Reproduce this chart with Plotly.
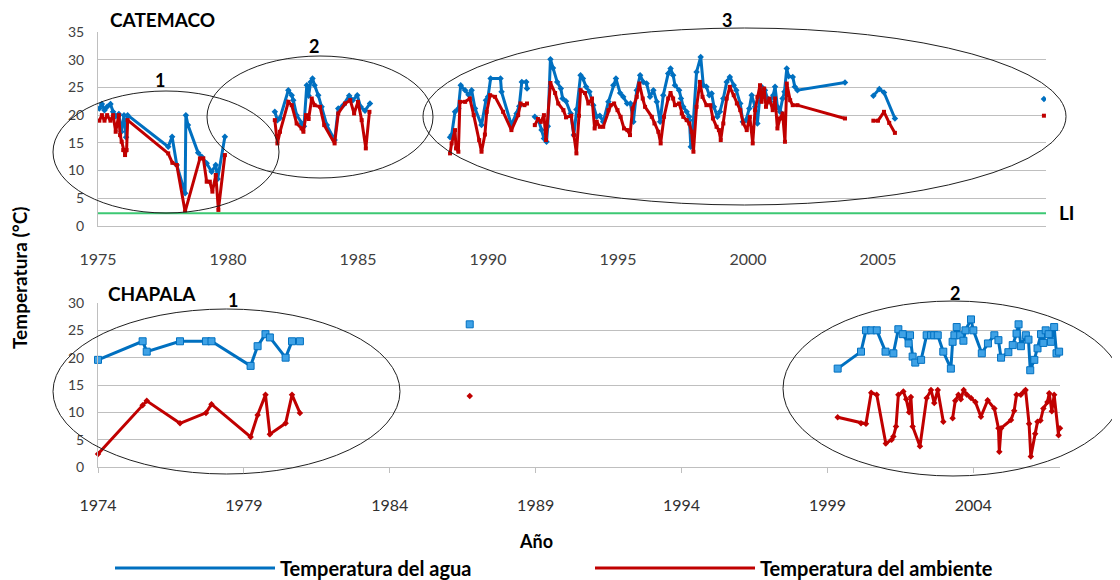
import plotly.graph_objects as go

# the page body adds an 8px margin, so the figure is drawn 8px smaller
OFF = 8
W, H = 1120 - OFF, 580 - OFF
BLUE = "#0070C0"
RED = "#C00000"
GREEN = "#3CC873"
GRID = "#BFBFBF"
FONT = "Lato"

# ---------------- Data ----------------
# CATEMACO (top panel)
cat_agua_x = [1975.05, 1975.15, 1975.25, 1975.35, 1975.48, 1975.58, 1975.68, 1975.8, 1975.9, 1976.0, 1976.08, 1976.14,
              1977.7, 1977.85, 1978.03, 1978.35, 1978.38, 1978.46, 1978.85, 1978.99, 1979.18, 1979.37, 1979.53, 1979.6, 1979.88,
              None,
              1981.8, 1981.9, 1982.0, 1982.32, 1982.45, 1982.51, 1982.64, 1982.83, 1982.92, 1983.03, 1983.1, 1983.18, 1983.25,
              1983.33, 1983.47, 1983.6, 1983.8, 1984.1, 1984.24, 1984.43, 1984.66, 1984.8, 1984.97, 1985.1, 1985.27, 1985.46,
              None,
              1988.54, 1988.6, 1988.73, 1988.86, 1988.95, 1989.12, 1989.25, 1989.37, 1989.5, 1989.75, 1989.92, 1990.0, 1990.1,
              1990.48, 1990.52, 1990.9, 1991.1, 1991.2, 1991.3, 1991.47, 1991.5,
              None,
              1991.8, 1991.95, 1992.06, 1992.15, 1992.25, 1992.3, 1992.4, 1992.5, 1992.66, 1992.8, 1992.87, 1993.0, 1993.18,
              1993.3, 1993.4, 1993.56, 1993.65, 1993.77, 1993.9, 1994.05, 1994.18, 1994.3, 1994.43, 1994.63, 1994.82, 1994.92,
              1995.08, 1995.2, 1995.35, 1995.48, 1995.59, 1995.72, 1995.85, 1995.97, 1996.1, 1996.23, 1996.36, 1996.49, 1996.62,
              1996.74, 1996.93, 1997.02, 1997.12, 1997.19, 1997.35, 1997.42, 1997.51, 1997.64, 1997.74, 1997.8, 1997.9, 1998.02,
              1998.18, 1998.28, 1998.4, 1998.51, 1998.6, 1998.69, 1998.82, 1998.92, 1999.05, 1999.18, 1999.3, 1999.45, 1999.55,
              1999.7, 1999.8, 1999.92, 2000.05, 2000.14, 2000.27, 2000.36, 2000.46, 2000.52, 2000.65, 2000.75, 2000.85, 2000.97,
              2001.04, 2001.13, 2001.23, 2001.33, 2001.4, 2001.49, 2001.56, 2001.72, 2001.8, 2001.9, 2003.73,
              None,
              2004.82, 2005.05, 2005.23, 2005.65,
              None,
              2011.38]
cat_agua_y = [21.2, 22.0, 20.9, 21.5, 22.0, 20.6, 19.8, 20.2, 17.0, 20.0, 16.0, 20.0,
              14.3, 16.1, 11.0, 5.9, 20.0, 18.2, 13.2, 12.5, 11.3, 9.8, 11.0, 8.5, 16.1,
              None,
              20.6, 19.1, 19.5, 24.5, 23.6, 22.7, 20.0, 18.5, 18.0, 25.4, 23.5, 26.0, 26.6,
              25.4, 23.6, 21.5, 18.2, 15.5, 21.2, 21.8, 23.5, 22.7, 23.6, 21.5, 20.8, 22.1,
              None,
              16.0, 16.4, 20.6, 21.2, 25.4, 24.5, 23.7, 24.5, 21.2, 18.2, 22.7, 23.3, 26.6,
              26.6, 24.2, 18.2, 20.3, 21.6, 26.0, 26.0, 24.8,
              None,
              19.7, 19.0, 17.3, 15.8, 15.2, 18.0, 30.1, 28.5, 26.0, 24.8, 23.0, 22.5, 20.3,
              16.4, 21.0, 27.2, 26.6, 25.1, 24.2, 21.8, 19.7, 19.9, 18.8, 22.4, 25.4, 26.6,
              24.0, 23.3, 22.1, 22.1, 18.8, 24.5, 27.2, 26.0, 25.7, 23.3, 24.5, 22.4, 18.8,
              23.6, 27.5, 28.4, 27.2, 25.4, 24.5, 23.0, 21.5, 20.6, 19.7, 14.3, 19.1, 27.8,
              30.5, 25.4, 25.1, 23.6, 23.9, 21.5, 19.7, 20.6, 23.0, 26.0, 26.9, 25.4, 24.5,
              22.1, 18.8, 19.1, 21.2, 23.6, 21.5, 18.5, 23.6, 25.1, 24.5, 23.0, 22.4, 23.6,
              25.1, 21.5, 20.6, 23.0, 24.2, 28.4, 27.0, 26.9, 25.1, 24.5, 25.9,
              None,
              23.5, 24.7, 24.1, 19.4,
              None,
              22.9]

cat_amb_x = [1975.05, 1975.15, 1975.25, 1975.35, 1975.48, 1975.58, 1975.68, 1975.8, 1975.85, 1975.91, 1975.97, 1976.04,
             1976.1, 1976.14, 1977.7, 1977.86, 1978.03, 1978.35, 1978.92, 1979.05, 1979.18, 1979.3, 1979.4, 1979.53, 1979.63,
             1979.88,
             None,
             1981.8, 1981.9, 1982.0, 1982.32, 1982.45, 1982.64, 1982.83, 1982.9, 1983.0, 1983.1, 1983.22, 1983.33, 1983.54,
             1983.7, 1984.1, 1984.24, 1984.5, 1984.7, 1984.85, 1985.0, 1985.14, 1985.3, 1985.44,
             None,
             1988.54, 1988.6, 1988.73, 1988.77, 1988.86, 1988.92, 1989.12, 1989.3, 1989.45, 1989.66, 1989.75, 1989.88, 1989.95,
             1990.08, 1990.27, 1990.58, 1990.9, 1991.16, 1991.25, 1991.4, 1991.5,
             None,
             1991.8, 1991.92, 1992.03, 1992.15, 1992.23, 1992.4, 1992.58, 1992.7, 1992.9, 1993.0, 1993.2, 1993.3, 1993.4,
             1993.5, 1993.56, 1993.73, 1993.86, 1994.0, 1994.1, 1994.18, 1994.3, 1994.43, 1994.63, 1994.72, 1994.85, 1994.98,
             1995.1, 1995.23, 1995.36, 1995.46, 1995.56, 1995.72, 1995.82, 1995.95, 1996.04, 1996.3, 1996.4, 1996.55, 1996.64,
             1996.77, 1996.93, 1997.02, 1997.12, 1997.19, 1997.35, 1997.45, 1997.51, 1997.64, 1997.74, 1997.83, 1997.9, 1998.02,
             1998.15, 1998.25, 1998.4, 1998.55, 1998.65, 1998.79, 1998.88, 1998.95, 1999.05, 1999.18, 1999.3, 1999.45, 1999.57,
             1999.7, 1999.82, 1999.95, 2000.07, 2000.18, 2000.27, 2000.36, 2000.46, 2000.52, 2000.62, 2000.69, 2000.82, 2000.95,
             2001.04, 2001.13, 2001.23, 2001.33, 2001.42, 2001.49, 2001.62, 2001.72, 2001.9, 2003.73,
             None,
             2004.82, 2005.0, 2005.23, 2005.43, 2005.65,
             None,
             2011.38]
cat_amb_y = [19.0, 20.0, 19.0, 20.0, 19.0, 20.0, 17.0, 20.0, 16.4, 15.2, 13.7, 12.8,
             13.7, 19.1, 13.1, 11.4, 11.0, 2.6, 12.2, 12.2, 8.0, 8.0, 6.2, 9.2, 2.9,
             12.8,
             None,
             19.1, 14.9, 17.0, 22.4, 21.8, 18.5, 17.6, 17.0, 20.0, 19.3, 23.0, 21.8, 21.5,
             18.2, 14.9, 20.3, 22.1, 22.7, 20.3, 22.4, 19.1, 14.0, 20.6,
             None,
             13.1, 14.9, 17.3, 14.0, 13.4, 22.4, 22.4, 23.0, 20.0, 15.5, 13.4, 16.5, 20.6,
             23.6, 23.3, 20.6, 17.3, 20.0, 22.1, 21.8, 22.1,
             None,
             18.2, 19.3, 18.8, 20.0, 15.5, 25.8, 24.0, 22.1, 20.9, 19.6, 19.9, 16.4, 13.1,
             19.9, 24.5, 24.0, 22.1, 23.0, 17.6, 18.8, 17.9, 17.9, 20.9, 21.8, 22.1, 20.9,
             19.7, 17.6, 17.3, 16.4, 21.2, 23.3, 25.7, 23.0, 21.5, 19.7, 18.5, 17.0, 14.9,
             19.7, 23.0, 24.0, 23.0, 21.8, 22.1, 20.3, 19.7, 19.1, 18.5, 17.0, 13.4, 21.5,
             26.0, 23.3, 21.8, 21.8, 19.4, 17.9, 17.3, 15.5, 18.5, 23.0, 25.1, 23.6, 22.1,
             20.9, 18.5, 17.3, 19.7, 14.9, 20.9, 23.3, 25.4, 22.4, 24.8, 21.5, 23.0, 20.9,
             23.0, 17.6, 19.4, 20.3, 15.2, 25.7, 22.7, 21.8, 21.8, 19.4,
             None,
             19.0, 19.0, 20.6, 18.6, 16.8,
             None,
             19.9]

li_value = 2.3

# CHAPALA (bottom panel)
cha_agua_x = [1974.0, 1975.53, 1975.67, 1976.81, 1977.7, 1977.89, 1979.23, 1979.47, 1979.74, 1979.89, 1980.43, 1980.65,
              1980.92,
              None,
              1986.74,
              None,
              1999.35, 2000.15, 2000.32, 2000.5, 2000.69, 2000.99, 2001.26, 2001.43, 2001.58, 2001.78, 2001.83, 2001.92,
              2002.01, 2002.21, 2002.4, 2002.55, 2002.66, 2002.78, 2002.97, 2003.23, 2003.29, 2003.35, 2003.43, 2003.55,
              2003.66, 2003.73, 2003.92, 2004.0, 2004.29, 2004.5, 2004.72, 2004.86, 2004.95, 2005.2, 2005.35, 2005.48,
              2005.55, 2005.63, 2005.8, 2005.89, 2005.95, 2006.09, 2006.2, 2006.32, 2006.4, 2006.48, 2006.58, 2006.66,
              2006.77, 2006.85, 2006.94]
cha_agua_y = [19.6, 23.0, 21.1, 23.0, 23.0, 23.0, 18.5, 22.1, 24.3, 23.7, 20.0, 23.0,
              23.0,
              None,
              26.1,
              None,
              18.0, 21.1, 25.0, 25.0, 25.0, 21.1, 20.8, 25.2, 24.3, 22.6, 24.1, 20.2,
              19.1, 19.6, 24.1, 24.1, 24.1, 24.1, 21.1, 18.0, 22.9, 24.1, 25.6, 24.1,
              23.1, 25.0, 27.0, 25.0, 20.8, 22.6, 24.1, 23.2, 20.0, 21.0, 22.3, 24.4,
              26.1, 22.1, 24.1, 23.3, 17.7, 19.6, 21.7, 24.3, 22.7, 25.0, 24.3, 22.9,
              25.6, 20.8, 21.1]

cha_amb_x = [1974.0, 1975.53, 1975.67, 1976.81, 1977.7, 1977.89, 1979.23, 1979.47, 1979.74, 1979.89, 1980.43, 1980.65,
             1980.92,
             None,
             1986.74,
             None,
             1999.35, 2000.15, 2000.32, 2000.5, 2000.69, 2001.0, 2001.2, 2001.26, 2001.35, 2001.43, 2001.6, 2001.7,
             2001.8, 2001.86, 2001.92, 2002.17, 2002.4, 2002.55, 2002.66, 2002.78, 2002.97,
             None,
             2003.29, 2003.38, 2003.49, 2003.57, 2003.67, 2003.78, 2003.92, 2004.07, 2004.26, 2004.49, 2004.72, 2004.86,
             2004.89, 2004.95, 2005.29, 2005.4, 2005.48, 2005.63, 2005.74, 2005.79, 2005.91, 2005.97, 2006.12, 2006.2,
             2006.3, 2006.4, 2006.54, 2006.6, 2006.69, 2006.77, 2006.92, 2006.97]
cha_amb_y = [2.4, 11.3, 12.1, 8.0, 9.9, 11.5, 5.5, 9.5, 13.2, 6.0, 8.0, 13.2,
             9.9,
             None,
             13.0,
             None,
             9.1, 8.0, 7.9, 13.6, 13.2, 4.3, 5.0, 5.6, 7.4, 13.2, 13.8, 12.4,
             10.0, 12.8, 7.4, 3.8, 12.6, 14.1, 11.7, 14.1, 8.3,
             None,
             8.9, 12.1, 13.2, 12.4, 14.1, 13.2, 12.6, 11.9, 9.2, 12.2, 10.7, 7.1,
             2.8, 7.1, 8.6, 10.3, 13.2, 13.2, 13.8, 14.1, 7.9, 1.9, 6.1, 8.3,
             8.5, 10.7, 11.9, 13.5, 10.2, 13.2, 5.8, 7.1]

top_ticks = [1975, 1980, 1985, 1990, 1995, 2000, 2005]
bottom_ticks = [1974, 1979, 1984, 1989, 1994, 1999, 2004]


# screen pixel -> paper fraction
def pxx(x):
    return (x - OFF) / W


def pxy(y):
    return 1 - (y - OFF) / H


fig = go.Figure()

# Top panel
fig.add_trace(go.Scatter(x=cat_agua_x, y=cat_agua_y, mode="lines+markers", xaxis="x", yaxis="y",
                         line=dict(color=BLUE, width=3), marker=dict(symbol="diamond", size=5, color=BLUE),
                         showlegend=False))
fig.add_trace(go.Scatter(x=cat_amb_x, y=cat_amb_y, mode="lines+markers", xaxis="x", yaxis="y",
                         line=dict(color=RED, width=3), marker=dict(symbol="square", size=4, color=RED),
                         showlegend=False))
# Bottom panel
fig.add_trace(go.Scatter(x=cha_agua_x, y=cha_agua_y, mode="lines+markers", xaxis="x2", yaxis="y2",
                         line=dict(color=BLUE, width=3),
                         marker=dict(symbol="square", size=7, color="#3FA2E6", line=dict(color=BLUE, width=1)),
                         showlegend=False, cliponaxis=False))
fig.add_trace(go.Scatter(x=cha_amb_x, y=cha_amb_y, mode="lines+markers", xaxis="x2", yaxis="y2",
                         line=dict(color=RED, width=3), marker=dict(symbol="diamond", size=5, color=RED),
                         showlegend=False, cliponaxis=False))

# legend entries
fig.add_trace(go.Scatter(x=[None], y=[None], mode="lines", line=dict(color=BLUE, width=3),
                         name="Temperatura del agua", xaxis="x", yaxis="y"))
fig.add_trace(go.Scatter(x=[None], y=[None], mode="lines", line=dict(color=RED, width=3),
                         name="Temperatura del ambiente", xaxis="x", yaxis="y"))

axis_common = dict(showgrid=False, zeroline=False, showline=True, linecolor=GRID, linewidth=1, automargin=False)

fig.update_layout(
    width=W, height=H,
    margin=dict(l=0, r=0, t=0, b=0, autoexpand=False),
    paper_bgcolor="white", plot_bgcolor="white",
    font=dict(family=FONT, color="black"),
    xaxis=dict(domain=[pxx(98), pxx(1046)], range=[1975, 2011.46], tickvals=top_ticks,
               ticks="", ticklabelstandoff=19, anchor="y",
               tickfont=dict(family=FONT, size=16, color="#404040"), **axis_common),
    yaxis=dict(domain=[pxy(226), pxy(32)], range=[0, 35], dtick=5, anchor="x", automargin=False,
               showgrid=True, gridcolor=GRID, gridwidth=1, zeroline=False, showline=True, linecolor=GRID,
               ticks="", ticklabelstandoff=10, tickfont=dict(family=FONT, size=14, color="#404040")),
    xaxis2=dict(domain=[pxx(98), pxx(1060)], range=[1974, 2006.97], tickvals=bottom_ticks,
                ticks="outside", ticklen=5, tickcolor=GRID, ticklabelstandoff=19, anchor="y2",
                tickfont=dict(family=FONT, size=16, color="#303030"), **axis_common),
    yaxis2=dict(domain=[pxy(467), pxy(303)], range=[0, 30], dtick=5, anchor="x2", automargin=False,
                showgrid=True, gridcolor=GRID, gridwidth=1, zeroline=False, showline=True, linecolor=GRID,
                ticks="", ticklabelstandoff=10, tickfont=dict(family=FONT, size=14, color="#404040")),
    legend=dict(orientation="h", x=pxx(110), y=pxy(568), xanchor="left", yanchor="middle",
                itemwidth=160, entrywidth=305, entrywidthmode="pixels",
                font=dict(family=FONT, size=20, color="black", weight="bold"),
                bgcolor="rgba(0,0,0,0)"),
)

# LI reference line
fig.add_shape(type="line", xref="x domain", yref="y", x0=0, x1=1, y0=li_value, y1=li_value,
              line=dict(color=GREEN, width=2))

# Ellipses (x0, y0, x1, y1 in screen pixels)
ellipses = [(53, 91, 279, 213), (207, 56, 433, 178), (423, 28, 1066, 205),
            (53, 309, 400, 474), (783, 301, 1123, 476)]
for e in ellipses:
    fig.add_shape(type="circle", xref="paper", yref="paper",
                  x0=pxx(e[0]), x1=pxx(e[2]), y0=pxy(e[3]), y1=pxy(e[1]),
                  line=dict(color="#202020", width=1))

texts = [
    ("CATEMACO", 162, 20, 19, 0),
    ("CHAPALA", 152, 293, 19, 0),
    ("1", 160, 80, 18, 0),
    ("2", 314, 46, 18, 0),
    ("3", 727, 20, 18, 0),
    ("1", 233, 300, 18, 0),
    ("2", 955, 293, 18, 0),
    ("LI", 1067, 213, 19, 0),
    ("Año", 536, 541, 18, 0),
    ("Temperatura (°C)", 19, 278, 19, -90),
]
for t, x, y, s, ang in texts:
    fig.add_annotation(text=t, x=pxx(x), y=pxy(y), xref="paper", yref="paper", showarrow=False,
                       xanchor="center", yanchor="middle", textangle=ang,
                       font=dict(family=FONT, size=s, color="black", weight="bold"))

fig.write_html("out.html")
